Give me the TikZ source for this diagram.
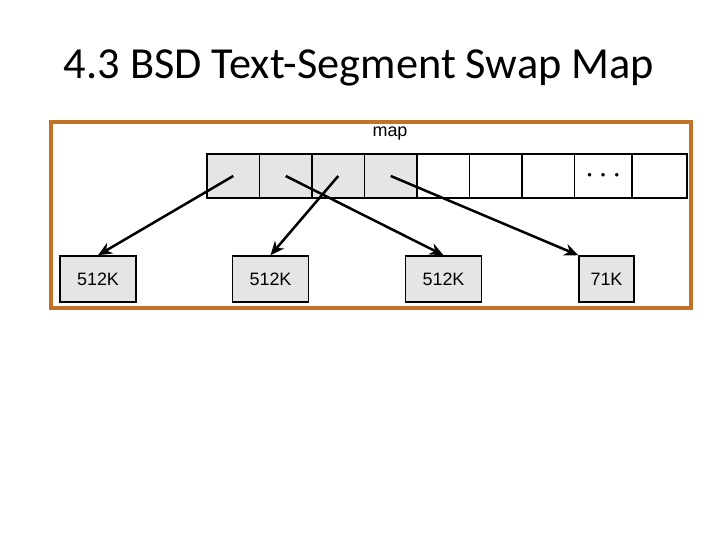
\documentclass[tikz,border=0pt]{standalone}
\usepackage{fontspec}
\setmainfont{Liberation Sans}
\newfontfamily\titlefont{Carlito}
\usetikzlibrary{arrows.meta, positioning}

\definecolor{frameorg}{RGB}{193,114,38}
\definecolor{cellgray}{RGB}{229,229,229}

\begin{document}
\begin{tikzpicture}[
    x=1bp, y=1bp,
    cell/.style={draw=black, line width=1.5bp, minimum width=52.5bp, minimum height=44bp, inner sep=0pt},
    gcell/.style={cell, fill=cellgray},
    seg/.style={draw=black, line width=1.5bp, fill=cellgray, minimum height=46bp, inner sep=0pt, font=\fontsize{18}{20}\selectfont},
    ptr/.style={-{Stealth[length=14bp, width=12bp]}, line width=2.5bp}
]
\useasboundingbox (0,0) rectangle (720,540);

\node[anchor=base, font=\titlefont\fontsize{44.5}{48}\selectfont] (title) at (359,461) {4.3 BSD Text-Segment Swap Map};

\draw[frameorg, line width=4bp] (51,232) rectangle (691,418);

% swap map
\node[font=\fontsize{18}{20}\selectfont] (maplbl) at (390,406) {map};
\foreach \i in {1,...,4}
    \node[gcell] (c\i) at (180.75+52.5*\i, 364) {};
\foreach \i in {5,...,7}
    \node[cell] (c\i) at (180.75+52.5*\i, 364) {};
\node[cell, minimum width=57.5bp, font=\fontsize{13}{13}\selectfont] (c8) at (603.25,364)
    {\raisebox{-2.5bp}{\textbullet\hspace{9bp}\textbullet\hspace{9bp}\textbullet}};
\node[cell, minimum width=55bp] (c9) at (659.5,364) {};

% segments on swap
\node[seg, minimum width=76bp] (segA) at (98,261) {512K};
\node[seg, minimum width=76bp] (segB) at (270.5,261) {512K};
\node[seg, minimum width=76bp] (segC) at (443.5,261) {512K};
\node[seg, minimum width=55bp] (segD) at (606.5,261) {71K};

\draw[ptr] (c1.center) -- (segA.north);
\draw[ptr] (c3.center) -- (segB.north);
\draw[ptr] (c2.center) -- (segC.north);
\draw[ptr] (c4.center) -- (segD.north west);

\end{tikzpicture}
\end{document}
